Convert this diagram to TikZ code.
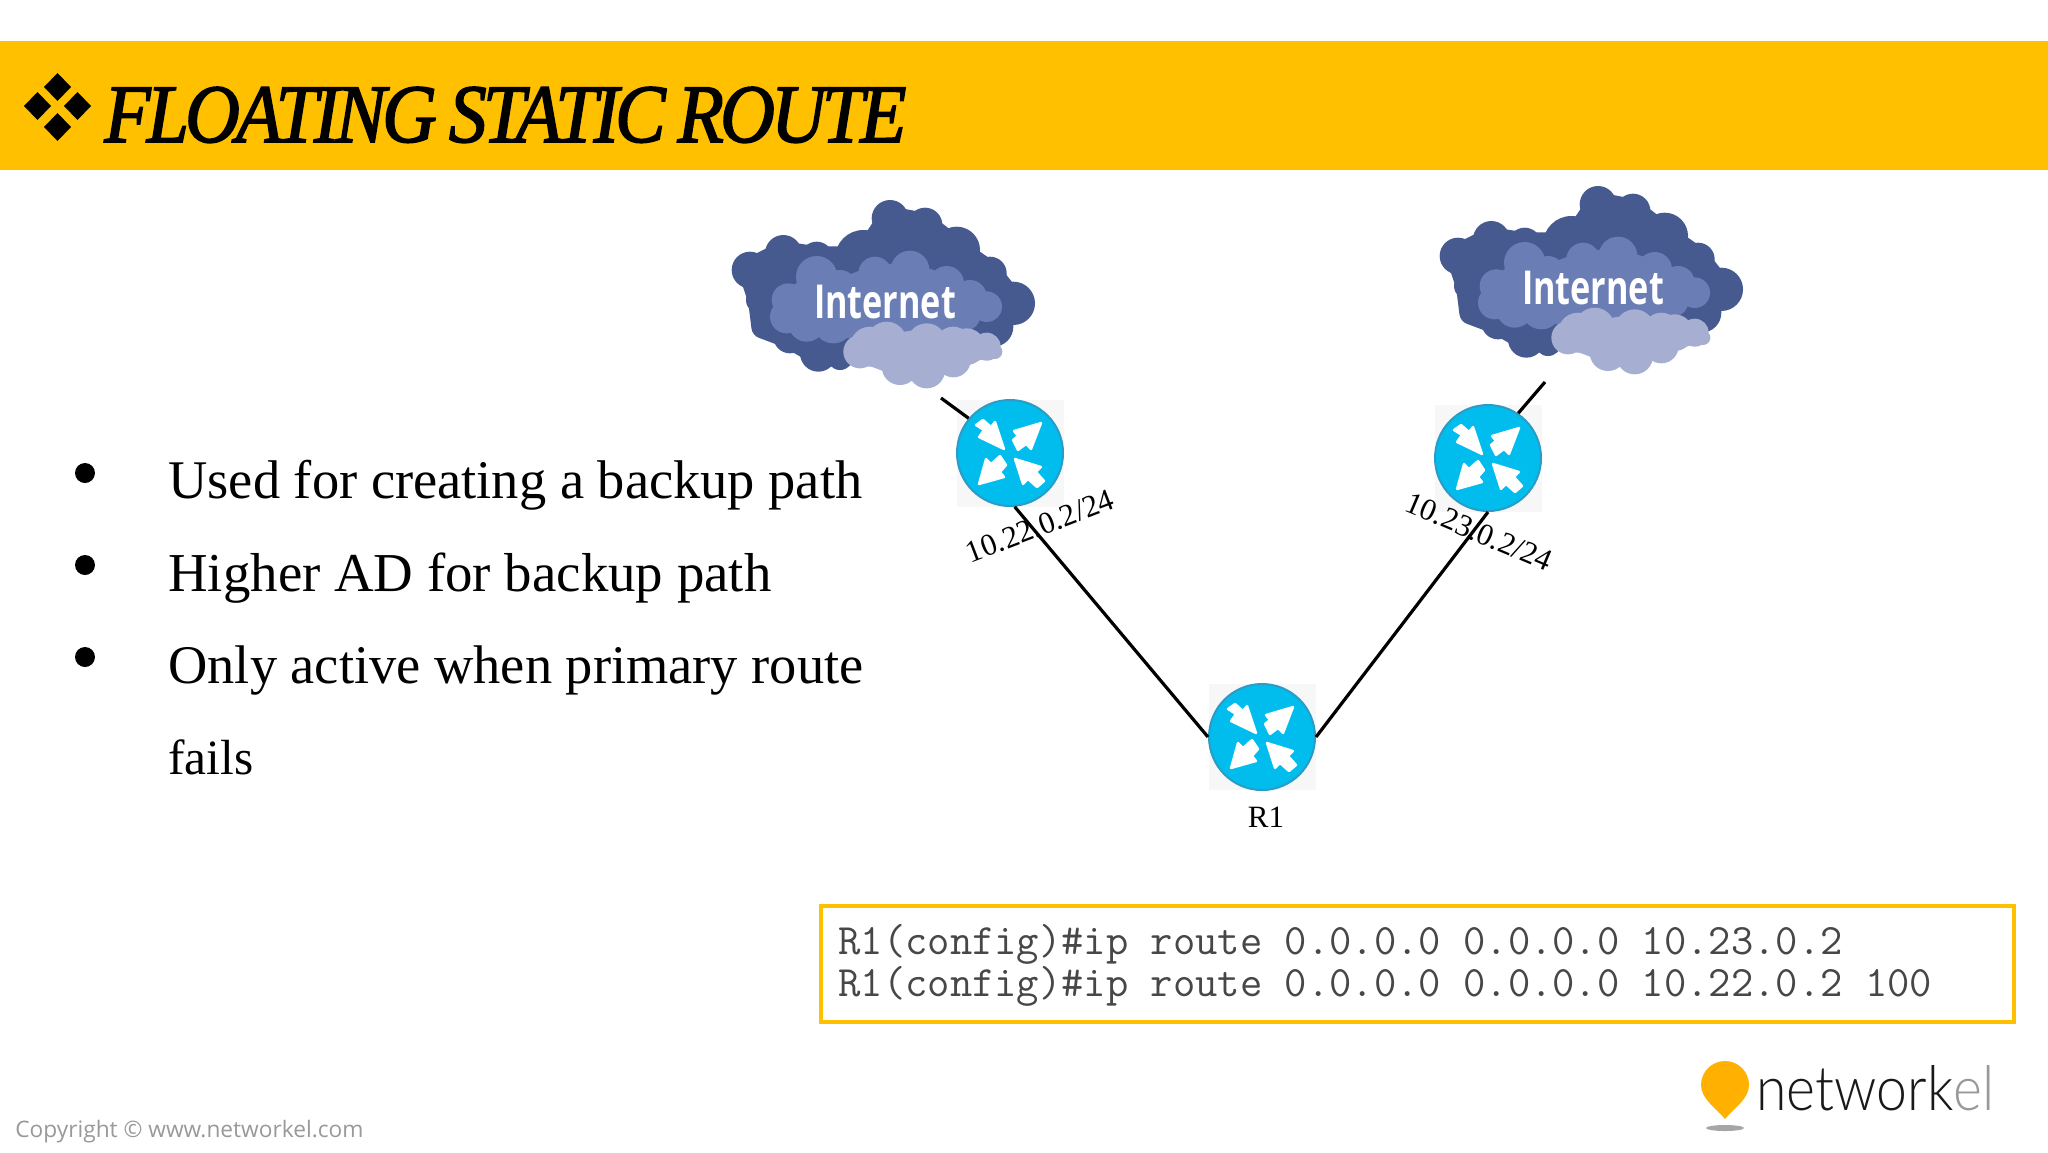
\documentclass[tikz,border=0pt]{standalone}
\usepackage{fontspec}
\usepackage{graphicx}
\usetikzlibrary{shapes.geometric}
\setmainfont{Liberation Serif}
\newfontfamily\opensansfont{Open Sans}
\newfontfamily\logofont{Lato}[UprightFont=* Light]
\newfontfamily\titlefont{Liberation Serif}[LetterSpace=-5,WordSpace=0.8,FakeBold=2]
\definecolor{bandc}{HTML}{FFC000}
\definecolor{cdark}{HTML}{465A90}
\definecolor{cmid}{HTML}{6A7DB5}
\definecolor{clight}{HTML}{A6AFD2}
\definecolor{rfill}{HTML}{00BDEE}
\definecolor{redge}{HTML}{2A9CC6}
\definecolor{pinc}{HTML}{FFB000}
\tikzset{
  routerdisc/.style={ellipse,draw=redge,line width=1pt,fill=rfill,minimum width=53pt,minimum height=53pt,inner sep=0pt},
  routerbg/.style={fill=black!3,draw=none},
  routerarrow/.style={fill=white,draw=white,line width=1.2pt,line join=round},
  link/.style={line width=1.6pt,black},
  iplabel/.style={font=\fontsize{15.5}{15.5}\selectfont,inner sep=0pt},
  bullettext/.style={anchor=base west,inner sep=0pt,font=\fontsize{25}{25}\selectfont},
  cfgtext/.style={anchor=base west,inner sep=0pt,text=black!72,font=\ttfamily\fontsize{21.67}{21.67}\selectfont},
}
\newcommand{\cloudart}[2]{%
  \begin{scope}[shift={(#1)},x=0.16667pt,y=-0.16667pt]
    \filldraw[cdark,line width=12pt,line join=round] (150,300)--(250,250)--(350,265)--(490,265)--(570,145)--(675,165)--(770,240)--(870,310)--(940,400)--(880,470)--(800,500)--(600,540)--(355,550)--(270,500)--(190,470)--(180,390)--cycle;
    \fill[cdark] (150,300) circle (55) (250,250) circle (55) (350,265) circle (50) (490,265) circle (85)
      (570,145) circle (55) (675,165) circle (52) (770,240) circle (70) (870,310) circle (50)
      (940,400) circle (65) (880,470) circle (60) (190,470) circle (35) (180,390) circle (42)
      (270,500) circle (50) (355,550) circle (55) (420,560) circle (40);
    \filldraw[cmid,line width=8pt,line join=round] (350,320)--(265,390)--(260,440)--(320,460)--(420,480)--(700,480)--(860,410)--(810,380)--(740,340)--(630,300)--(525,310)--(420,350)--cycle;
    \fill[cmid] (350,320) circle (62) (265,390) circle (50) (260,440) circle (50) (320,460) circle (55)
      (420,350) circle (50) (525,310) circle (50) (630,300) circle (58) (740,340) circle (52)
      (810,380) circle (50) (860,410) circle (46) (800,440) circle (40) (400,460) circle (60);
    \filldraw[clight,line width=10pt,line join=round] (480,545)--(510,530)--(650,510)--(800,530)--(860,530)--(760,570)--(680,600)--(600,590)--cycle;
    \fill[clight] (510,530) circle (60) (480,545) circle (50) (600,590) circle (55) (680,600) circle (55)
      (760,570) circle (52) (800,530) circle (55) (860,530) circle (42) (885,545) circle (22)
      (560,515) circle (60) (680,520) circle (60) (760,525) circle (55);
    \node[text=white,inner sep=0pt,font=\opensansfont\bfseries\fontsize{23}{23}\selectfont] (#2) at (555,395) {\resizebox{71pt}{16.7pt}{Internet}};
  \end{scope}}
\newcommand{\routerarrows}[1]{%
  \begin{scope}[shift={(#1)}]
    \filldraw[routerarrow] (31,-30)--(4,-22)--(8,-17)--(3,-13)--(8,-3)--(16,-9)--(21,-4)--cycle;
    \filldraw[routerarrow] (-31,31)--(-24,6)--(-19,11)--(-10,3)--(-4,12)--(-10,19)--(-6,24)--cycle;
    \filldraw[routerarrow] (-6,-4)--(-31,-16)--(-26,-23)--(-34,-28)--(-27,-33)--(-19,-26)--(-15,-31)--cycle;
    \filldraw[routerarrow] (5,6)--(31,14)--(26,19)--(34,28)--(27,34)--(18,26)--(13,31)--cycle;
  \end{scope}}
\begin{document}
\begin{tikzpicture}[x=0.5pt,y=-0.5pt]
\useasboundingbox (0,0) rectangle (2048,1152);
\fill[white] (0,0) rectangle (2048,1152);
% band
\fill[bandc] (0,41) rectangle (2048,170);
\fill[black] (57.5,73)--(71,87)--(57.5,101)--(44,87)--cycle
  (37.5,92)--(51,106)--(37.5,120)--(24,106)--cycle
  (77.5,92)--(91,106)--(77.5,120)--(64,106)--cycle
  (57.5,113)--(71,127)--(57.5,141)--(44,127)--cycle;
\node[anchor=base west,inner sep=0pt] (title) at (104,142) {\resizebox{401pt}{27.5pt}{\titlefont\itshape FLOATING STATIC ROUTE}};
% bullets
\foreach \by in {473,565,657} \fill[black] (85,\by) circle (10);
\node[bullettext] (b1) at (168,498) {\resizebox{347pt}{!}{Used for creating a backup path}};
\node[bullettext] (b2) at (168,591) {\resizebox{301.5pt}{!}{Higher AD for backup path}};
\node[bullettext] (b3) at (168,683) {\resizebox{347.5pt}{!}{Only active when primary route}};
\node[bullettext] (b4) at (168,774) {\resizebox{42.5pt}{!}{fails}};
% clouds
\cloudart{700,170}{inet1}
\cloudart{1408,156}{inet2}
% router backgrounds
\fill[routerbg] (957,400) rectangle (1064,507);
\fill[routerbg] (1435,405) rectangle (1542,512);
\fill[routerbg] (1209,684) rectangle (1316,790);
% labels
\node[iplabel,rotate=21] (lab1) at (1040,526) {10.22.0.2/24};
\node[iplabel,rotate=-23] (lab2) at (1479,532) {10.23.0.2/24};
\node[iplabel] (lab3) at (1266,817) {R1};
% routers
\node[routerdisc] (R2) at (1010,453) {};
\node[routerdisc] (R3) at (1488,458) {};
\node[routerdisc] (R1) at (1262,737) {};
\routerarrows{1010,453}
\routerarrows{1488,458}
\routerarrows{1262,737}
% links
\coordinate (c1) at (941,398);
\coordinate (c2) at (1545,382);
\draw[link] (c1) -- (R2.140);
\draw[link] (c2) -- (R3.56);
\draw[link] (R2.275) -- (R1.west);
\draw[link] (R3.south) -- (R1.east);
% config box
\draw[bandc,line width=2pt] (821,906) rectangle (2014,1022);
\node[cfgtext] (cfg1) at (838,954) {R1(config)\#ip route 0.0.0.0 0.0.0.0 10.23.0.2};
\node[cfgtext] (cfg2) at (838,996) {R1(config)\#ip route 0.0.0.0 0.0.0.0 10.22.0.2 100};
% footer
\node[anchor=base west,inner sep=0pt,text=black!40,font=\opensansfont\fontsize{11.5}{11.5}\selectfont] (copy) at (15,1137) {\resizebox{174pt}{!}{Copyright © www.networkel.com}};
% logo
\fill[black!35] (1725,1128) ellipse (19 and 3);
\fill[pinc] (1725,1119) .. controls (1716,1108) and (1701,1099) .. (1701,1085)
  arc[start angle=180,end angle=360,radius=24] .. controls (1749,1099) and (1734,1108) .. (1725,1119) -- cycle;
\node[anchor=base west,inner sep=0pt,font=\logofont\fontsize{31.5}{31.5}\selectfont,text=black!90] (logo) at (1756,1110) {\resizebox{119pt}{22.5pt}{network\textcolor{black!40}{el}}};
\end{tikzpicture}
\end{document}
